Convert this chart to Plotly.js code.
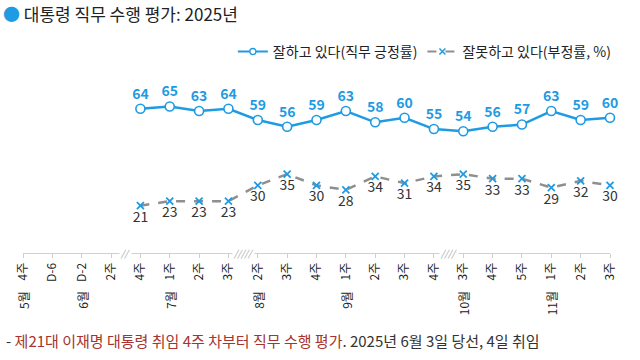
<!DOCTYPE html>
<html>
<head>
<meta charset="utf-8">
<script src="https://cdn.plot.ly/plotly-3.0.1.min.js"></script>
<style>
html,body{margin:0;padding:0;background:#fff;}
#chart{width:640px;height:360px;}
</style>
</head>
<body>
<div id="chart"></div>
<script>
// Category (week) labels along the axis
var weekLabels = ["4주","D-6","D-2","2주","4주","1주","2주","3주","2주","3주","4주","1주","2주","3주","4주","3주","4주","5주","1주","2주","3주"];
// Month labels and the category index they sit under
var monthLabels = ["5월","6월","7월","8월","9월","10월","11월"];
var monthIndex = [0,2,5,8,11,15,18];
// Index of first category with data
var firstDataIndex = 4;
// Series values
var positive = [64,65,63,64,59,56,59,63,58,60,55,54,56,57,63,59,60];
var negative = [21,23,23,23,30,35,30,28,34,31,34,35,33,33,29,32,30];
var seriesNames = ["잘하고 있다(직무 긍정률)", "잘못하고 있다(부정률, %)"];
// Axis break markers (between categories)
var breakPos = [3.5, 7.5, 14.5];
var breakText = ["//", "/////", "////"];

var xIdx = positive.map(function(_, i){ return i + firstDataIndex; });
var tickIdx = weekLabels.map(function(_, i){ return i; });

var BLUE = "#1f9be3";
var GRAY = "#8f8f8f";
var FONT = "Noto Sans CJK KR, Noto Sans, sans-serif";

var traces = [
  {
    x: xIdx, y: positive, type: "scatter", mode: "lines+markers+text",
    name: seriesNames[0], showlegend: false,
    line: {color: BLUE, width: 2.5},
    marker: {symbol: "circle", size: 9, color: "#ffffff", line: {color: BLUE, width: 1.6}},
    text: positive.map(String), textposition: "top center",
    textfont: {family: FONT, size: 14, color: BLUE, weight: 600},
    cliponaxis: false, hoverinfo: "skip"
  },
  {
    x: xIdx, y: negative, type: "scatter", mode: "lines+markers+text",
    name: seriesNames[1], showlegend: false,
    line: {color: GRAY, width: 2.5, dash: "dash"},
    marker: {symbol: "x-thin", size: 7, color: BLUE, line: {color: BLUE, width: 1.8}},
    text: negative.map(String), textposition: "bottom center",
    textfont: {family: FONT, size: 14, color: "#333333"},
    cliponaxis: false, hoverinfo: "skip"
  },
  // legend-only entries with smaller sample markers
  {
    x: [null], y: [null], type: "scatter", mode: "lines+markers",
    name: seriesNames[0],
    line: {color: BLUE, width: 2},
    marker: {symbol: "circle", size: 6, color: "#ffffff", line: {color: BLUE, width: 1.3}}
  },
  {
    x: [null], y: [null], type: "scatter", mode: "lines+markers",
    name: seriesNames[1],
    line: {color: GRAY, width: 2, dash: "dash"},
    marker: {symbol: "x-thin", size: 6, color: BLUE, line: {color: BLUE, width: 1.5}}
  }
];

var annotations = [];
monthLabels.forEach(function(m, i){
  annotations.push({
    x: monthIndex[i], xref: "x", y: 0, yref: "paper",
    yanchor: "top", xanchor: "center", yshift: -36,
    text: m, textangle: -90, showarrow: false,
    font: {family: FONT, size: 12, color: "#222222"}
  });
});
breakPos.forEach(function(p, i){
  annotations.push({
    x: p, xref: "x", y: 0, yref: "paper",
    yanchor: "middle", xanchor: "center",
    text: "<i>" + breakText[i] + "</i>", showarrow: false,
    bgcolor: "#ffffff", borderpad: 0,
    font: {family: FONT, size: 9, color: "#9a9a9a"}
  });
});
// Title
annotations.push({
  x: 0, xref: "paper", xshift: -22, y: 1, yref: "paper", yshift: 71,
  xanchor: "left", yanchor: "middle", showarrow: false,
  text: "<span style='color:" + BLUE + "'>●</span> 대통령 직무 수행 평가: 2025년",
  font: {family: FONT, size: 17, color: "#222222"}
});
// Footnote
annotations.push({
  x: 0, xref: "paper", xshift: -19, y: 0, yref: "paper", yshift: -87,
  xanchor: "left", yanchor: "middle", showarrow: false,
  text: "- <span style='color:#a8322d'>제21대 이재명 대통령 취임 4주 차부터 직무 수행 평가</span>. 2025년 6월 3일 당선, 4일 취임",
  font: {family: FONT, size: 15, color: "#333333"}
});

var layout = {
  width: 640, height: 360,
  margin: {l: 23, r: 30, t: 84, b: 107},
  paper_bgcolor: "#ffffff", plot_bgcolor: "#ffffff",
  showlegend: true,
  legend: {
    orientation: "h", x: 1.01, xanchor: "right", y: 1.19, yanchor: "middle",
    font: {family: FONT, size: 14, color: "#222222"},
    bgcolor: "rgba(0,0,0,0)", traceorder: "normal"
  },
  xaxis: {
    type: "linear", range: [0, 20],
    tickvals: tickIdx, ticktext: weekLabels,
    tickangle: -90, tickfont: {family: FONT, size: 12, color: "#222222"},
    showline: true, linecolor: "#cfcfcf", linewidth: 1,
    ticks: "outside", ticklen: 4, tickcolor: "#cfcfcf",
    showgrid: false, zeroline: false, fixedrange: true
  },
  yaxis: {
    range: [0, 75], visible: false, showgrid: false, zeroline: false, fixedrange: true
  },
  annotations: annotations
};

Plotly.newPlot("chart", traces, layout, {displayModeBar: false, staticPlot: true});
</script>
</body>
</html>
